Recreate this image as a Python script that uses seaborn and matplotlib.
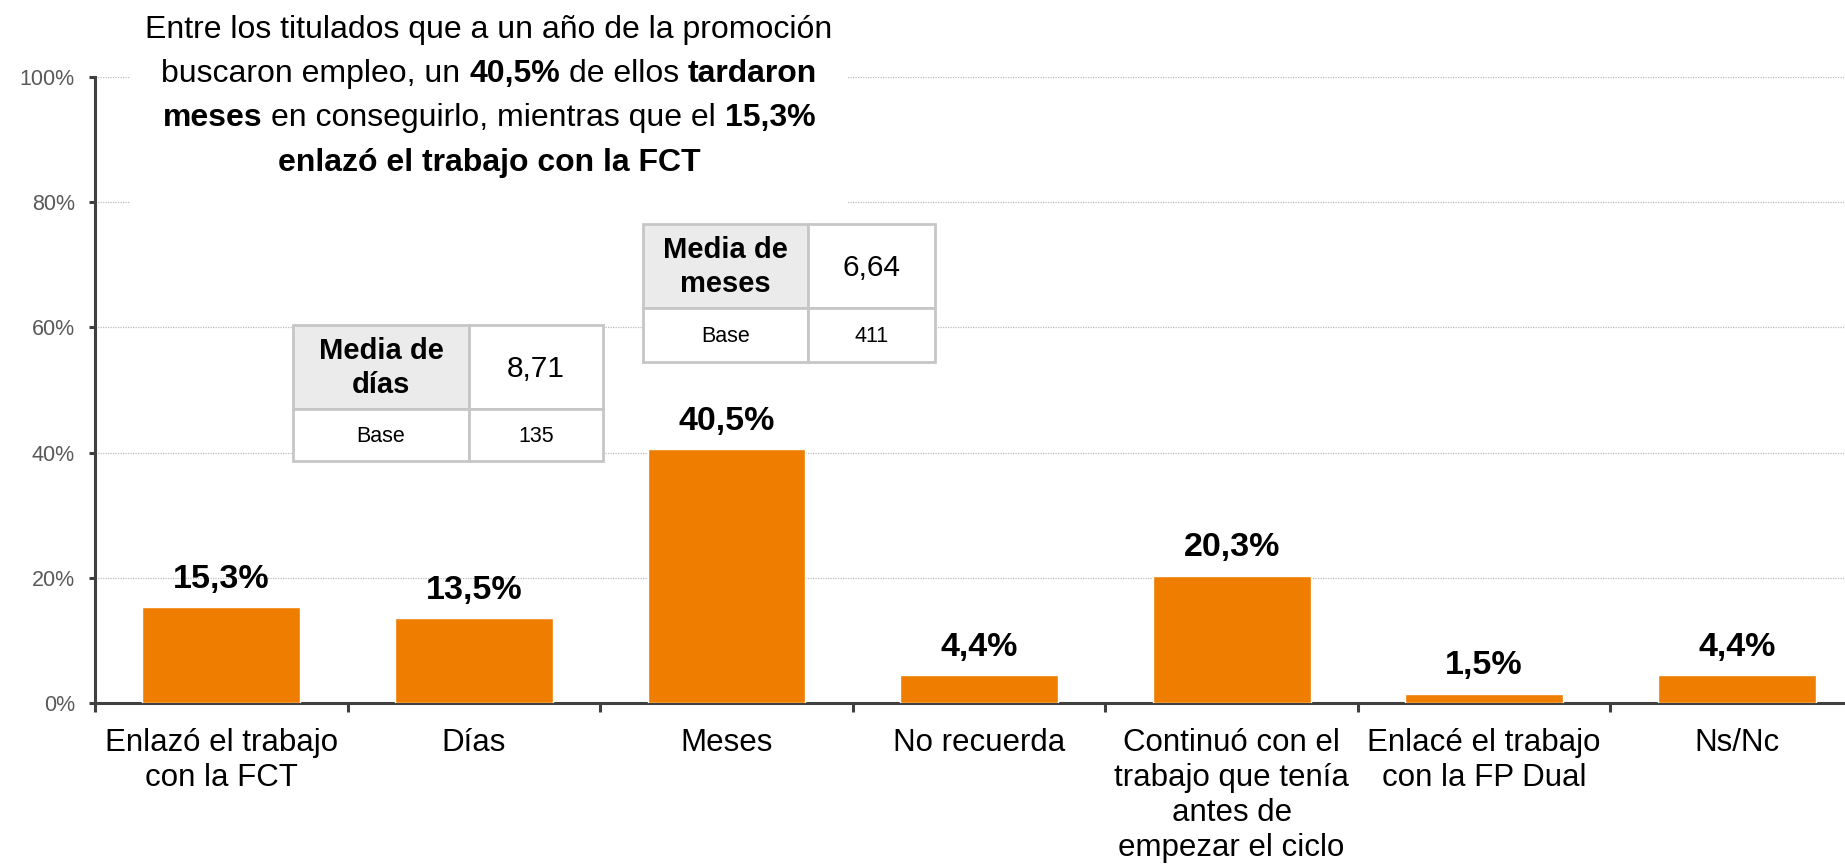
import matplotlib
matplotlib.use("Agg")
import matplotlib.pyplot as plt
from matplotlib.patches import Rectangle
import seaborn as sns

# ---- data -------------------------------------------------------------
categories = [
    "Enlazó el trabajo\ncon la FCT",
    "Días",
    "Meses",
    "No recuerda",
    "Continuó con el\ntrabajo que tenía\nantes de\nempezar el ciclo",
    "Enlacé el trabajo\ncon la FP Dual",
    "Ns/Nc",
]
values = [15.3, 13.5, 40.5, 4.4, 20.3, 1.5, 4.4]
y_ticks = [0, 20, 40, 60, 80, 100]

title_lines = [
    [("Entre los titulados que a un año de la promoción", False)],
    [("buscaron empleo, un", False), ("40,5%", True), ("de ellos", False), ("tardaron", True)],
    [("meses", True), ("en conseguirlo, mientras que el", False), ("15,3%", True)],
    [("enlazó el trabajo con la FCT", True)],
]

table_dias_header = "Media de\ndías"
table_dias_mean = "8,71"
table_dias_base = "135"
table_meses_header = "Media de\nmeses"
table_meses_mean = "6,64"
table_meses_base = "411"

# ---- style ------------------------------------------------------------
W, H = 1845, 865
ORANGE = "#EE7D00"
DARK = "#404040"

sns.set_theme(style="white")
plt.rcParams["font.family"] = ["Liberation Sans", "DejaVu Sans"]

fig = plt.figure(figsize=(W / 100, H / 100), dpi=100)
fig.patch.set_facecolor("white")

# plot area in pixel units (top-left origin)
ax_left, ax_right, ax_top, ax_bottom = 95, 1863, 77, 703
ax = fig.add_axes([ax_left / W, (H - ax_bottom) / H,
                   (ax_right - ax_left) / W, (ax_bottom - ax_top) / H])

sns.barplot(x=categories, y=values, color=ORANGE, saturation=1,
            width=0.625, ax=ax, zorder=3)

ax.set_xlim(-0.5, len(categories) - 0.5)
ax.set_ylim(0, 100)
ax.set_yticks(y_ticks)
ax.set_yticklabels([f"{t}%" for t in y_ticks])
ax.set_xlabel("")
ax.set_ylabel("")

# grid
ax.yaxis.grid(True, linestyle=(0, (1, 1)), color="#bdbdbd", linewidth=0.9, zorder=0)
ax.xaxis.grid(False)
ax.set_axisbelow(True)

for side in ("top", "right"):
    ax.spines[side].set_visible(False)
for side in ("left", "bottom"):
    ax.spines[side].set_color(DARK)
    ax.spines[side].set_linewidth(2.2)

ax.tick_params(axis="y", which="major", direction="out", length=4.5, width=2.2,
               color=DARK, labelsize=15.5, labelcolor="#595959", pad=10, left=True)
# category boundaries get the tick marks, labels sit at the bar centres
ax.set_xticks([i - 0.5 for i in range(len(categories) + 1)], minor=True)
ax.tick_params(axis="x", which="minor", direction="out", length=6.5, width=2.2,
               color=DARK, bottom=True)
ax.tick_params(axis="x", which="major", length=0, labelsize=22.5,
               labelcolor="black", pad=18)
for lab in ax.get_xticklabels():
    lab.set_linespacing(1.22)

# value labels
labels = [f"{v:.1f}".replace(".", ",") + "%" for v in values]
ax.bar_label(ax.containers[0], labels=labels, padding=9,
             fontsize=24.5, fontweight="bold", color="black")


def fx(x):
    return x / W


def fy(y):
    return 1 - y / H


# white panel behind the headline
fig.patches.append(Rectangle((fx(130), fy(212)), fx(847) - fx(130), fy(0) - fy(212),
                             transform=fig.transFigure, facecolor="white",
                             edgecolor="none", zorder=1))

# ---- headline with mixed weights ----------------------------------------
renderer = fig.canvas.get_renderer()
TITLE_SIZE = 23


def seg_width(s, bold):
    kw = dict(fontsize=TITLE_SIZE, fontweight="bold" if bold else "normal")
    t1 = fig.text(0, 0, "|" + s + "|", **kw)
    t2 = fig.text(0, 0, "||", **kw)
    w = t1.get_window_extent(renderer).width - t2.get_window_extent(renderer).width
    t1.remove()
    t2.remove()
    return w


space_w = seg_width(" ", False)
title_cx = 489
baselines = [38, 82, 126, 171]
for segs, base in zip(title_lines, baselines):
    widths = [seg_width(s, b) for s, b in segs]
    total = sum(widths) + space_w * (len(segs) - 1)
    x = title_cx - total / 2
    for (s, b), w in zip(segs, widths):
        fig.text(fx(x), fy(base), s, fontsize=TITLE_SIZE,
                 fontweight="bold" if b else "normal", ha="left", va="baseline",
                 color="black", zorder=5)
        x += w + space_w


# ---- summary tables -----------------------------------------------------
def draw_table(x0, xs, x1, y0, ys, y1, header, mean, base):
    border = "#c6c6c6"
    lw = 2.0
    cells = [
        (x0, y0, xs, ys, "#ebebeb"),
        (xs, y0, x1, ys, "white"),
        (x0, ys, xs, y1, "white"),
        (xs, ys, x1, y1, "white"),
    ]
    for a, b, c, d, fc in cells:
        fig.patches.append(Rectangle((fx(a), fy(d)), fx(c) - fx(a), fy(b) - fy(d),
                                     transform=fig.transFigure, facecolor=fc,
                                     edgecolor=border, linewidth=lw, zorder=2))
    fig.text(fx((x0 + xs) / 2), fy((y0 + ys) / 2 + 1), header, ha="center",
             va="center", fontsize=21, fontweight="bold", linespacing=1.3,
             color="black", zorder=6)
    fig.text(fx((xs + x1) / 2), fy((y0 + ys) / 2 + 2), mean, ha="center",
             va="center", fontsize=21.5, color="black", zorder=6)
    fig.text(fx((x0 + xs) / 2), fy((ys + y1) / 2 + 1), "Base", ha="center",
             va="center", fontsize=15.5, color="black", zorder=6)
    fig.text(fx((xs + x1) / 2), fy((ys + y1) / 2 + 1), base, ha="center",
             va="center", fontsize=15.5, color="black", zorder=6)


draw_table(293, 469, 603, 325, 409, 461,
           table_dias_header, table_dias_mean, table_dias_base)
draw_table(643, 808, 935, 224, 308, 362,
           table_meses_header, table_meses_mean, table_meses_base)

fig.savefig("out.png", dpi=100, facecolor="white")
